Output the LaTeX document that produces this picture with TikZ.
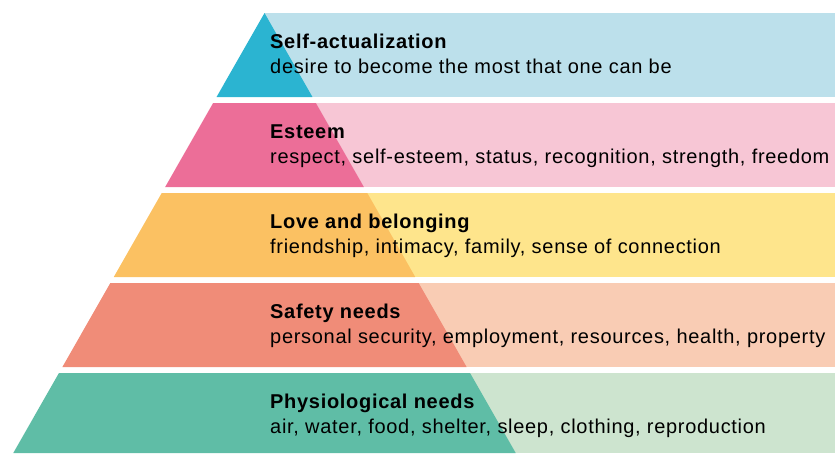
\documentclass[tikz,border=0pt]{standalone}
\usepackage{fontspec}
\setmainfont{Liberation Sans}[LetterSpace=3.5]
\definecolor{d1}{HTML}{2BB4D1}
\definecolor{l1}{HTML}{BCE0EB}
\definecolor{d2}{HTML}{EC6E98}
\definecolor{l2}{HTML}{F7C6D5}
\definecolor{d3}{HTML}{FBC162}
\definecolor{l3}{HTML}{FEE58C}
\definecolor{d4}{HTML}{F08C78}
\definecolor{l4}{HTML}{F9CCB4}
\definecolor{d5}{HTML}{5FBDA6}
\definecolor{l5}{HTML}{CDE4CF}
\begin{document}
\begin{tikzpicture}[x=1pt,y=-1pt,
  title/.style={anchor=base west,inner sep=0pt,font=\fontsize{20}{22}\selectfont\bfseries,text=black},
  desc/.style={anchor=base west,inner sep=0pt,font=\fontsize{20}{22}\selectfont,text=black}]
\useasboundingbox (0,0) rectangle (835,453);
\def\ax{264.5}\def\ay{13}\def\k{0.571}
\foreach \i/\c in {0/1,1/2,2/3,3/4,4/5}{
  \pgfmathsetmacro{\t}{13+90*\i}
  \pgfmathsetmacro{\b}{min(\t+84,453)}
  \pgfmathsetmacro{\lt}{\ax-\k*(\t-\ay)}
  \pgfmathsetmacro{\rt}{\ax+\k*(\t-\ay)}
  \pgfmathsetmacro{\lb}{\ax-\k*(\b-\ay)}
  \pgfmathsetmacro{\rb}{\ax+\k*(\b-\ay)}
  \fill[l\c] (\ax,\t) rectangle (835,\b);
  \fill[d\c] (\lt,\t) -- (\rt,\t) -- (\rb,\b) -- (\lb,\b) -- cycle;
}
\node[title] (t1) at (270,48.5) {Self-actualization};
\node[desc]  (s1) at (270,73.7) {desire to become the most that one can be};
\node[title] (t2) at (270,138.5) {Esteem};
\node[desc]  (s2) at (270,163.7) {respect, self-esteem, status, recognition, strength, freedom};
\node[title] (t3) at (270,228.5) {Love and belonging};
\node[desc]  (s3) at (270,253.7) {friendship, intimacy, family, sense of connection};
\node[title] (t4) at (270,318.5) {Safety needs};
\node[desc]  (s4) at (270,343.7) {personal security, employment, resources, health, property};
\node[title] (t5) at (270,408.5) {Physiological needs};
\node[desc]  (s5) at (270,433.7) {air, water, food, shelter, sleep, clothing, reproduction};
\end{tikzpicture}
\end{document}
